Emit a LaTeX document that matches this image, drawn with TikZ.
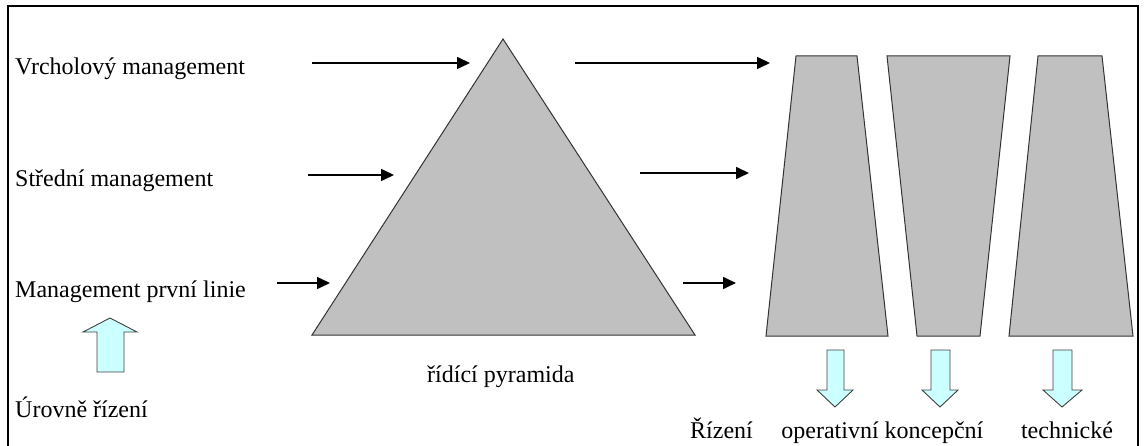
\documentclass[tikz,border=0pt]{standalone}
\usepackage{fontspec}
\setmainfont{Liberation Serif}
\usetikzlibrary{arrows.meta}
\definecolor{shapegray}{RGB}{192,192,192}
\definecolor{lightcyan}{RGB}{204,255,255}
\tikzset{
  lbl/.style={inner sep=0pt, font=\fontsize{24}{28}\selectfont},
  flow/.style={line width=1.6pt, -{Triangle[length=13pt,width=12pt]}},
  block/.style={fill=shapegray, draw=black!80, line width=1pt, line join=miter},
  bigarrow/.style={fill=lightcyan, draw=black!75, line width=0.9pt}
}
\begin{document}
\begin{tikzpicture}[x=1pt,y=-1pt]
\useasboundingbox (0,0) rectangle (1145,446);
\clip (0,0) rectangle (1145,446);
\draw[line width=2pt] (8,6) rectangle (1138,470);

% left labels
\node[lbl, anchor=base west] (vrch) at (15,75) {Vrcholový management};
\node[lbl, anchor=base west] (stred) at (15,187) {Střední management};
\node[lbl, anchor=base west] (prvni) at (15,298) {Management první linie};
\node[lbl, anchor=base west] (urov) at (15,417) {Úrovně řízení};

% up arrow
\draw[bigarrow] (97,372) -- (97,332) -- (83,332) -- (110,318) -- (137,332) -- (124,332) -- (124,372) -- cycle;

% pyramid
\draw[block] (312,335) -- (695,335) -- (503,39) -- cycle;
\node[lbl, anchor=base west] (pyr) at (427,382) {řídící pyramida};

% arrows into pyramid
\coordinate (a1s) at (312,63);  \coordinate (a1e) at (470,63);
\coordinate (a2s) at (308,175); \coordinate (a2e) at (394,175);
\coordinate (a3s) at (277,283); \coordinate (a3e) at (330,283);
\draw[flow] (a1s) -- (a1e);
\draw[flow] (a2s) -- (a2e);
\draw[flow] (a3s) -- (a3e);

% arrows out of pyramid
\coordinate (b1s) at (575,63);  \coordinate (b1e) at (770,63);
\coordinate (b2s) at (640,173); \coordinate (b2e) at (749,173);
\coordinate (b3s) at (683,283); \coordinate (b3e) at (736,283);
\draw[flow] (b1s) -- (b1e);
\draw[flow] (b2s) -- (b2e);
\draw[flow] (b3s) -- (b3e);

% trapezoids
\draw[block] (796,56) -- (857,56) -- (888,336) -- (766,336) -- cycle;
\draw[block] (887,56) -- (1010,56) -- (980,336) -- (917,336) -- cycle;
\draw[block] (1038,56) -- (1102,56) -- (1133,336) -- (1009,336) -- cycle;

% down arrows
\draw[bigarrow] (827,350) -- (844,350) -- (844,390) -- (853,390) -- (835,407) -- (817,390) -- (827,390) -- cycle;
\draw[bigarrow] (931,350) -- (950,350) -- (950,390) -- (958,390) -- (940,407) -- (922,390) -- (931,390) -- cycle;
\draw[bigarrow] (1053,350) -- (1072,350) -- (1072,390) -- (1082,390) -- (1062,407) -- (1043,390) -- (1053,390) -- cycle;

% bottom labels
\node[lbl, anchor=base west] (riz) at (690,438) {Řízení};
\node[lbl, anchor=base] (oper) at (830,438) {operativní};
\node[lbl, anchor=base] (konc) at (934,438) {koncepční};
\node[lbl, anchor=base] (tech) at (1067,438) {technické};
\end{tikzpicture}
\end{document}
